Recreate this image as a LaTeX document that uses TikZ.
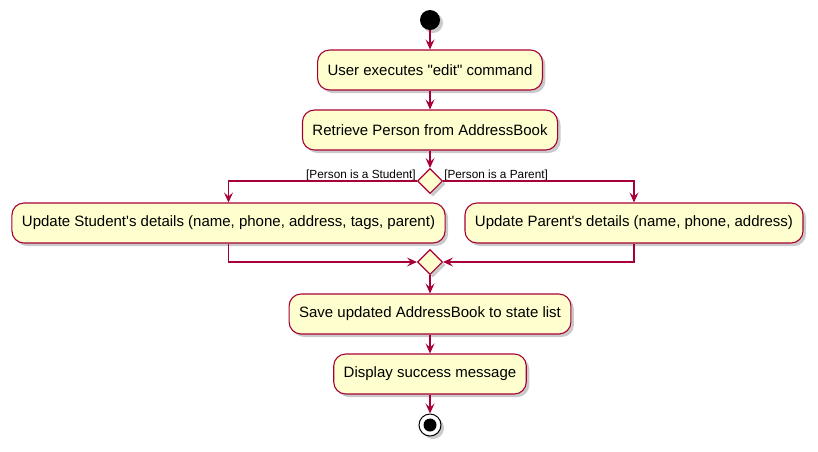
\documentclass[tikz,border=0pt]{standalone}
\usepackage{fontspec}
\setmainfont{Liberation Sans}
\usetikzlibrary{arrows.meta,shadows,shapes.geometric}

\definecolor{umlfill}{HTML}{FEFECE}
\definecolor{umlline}{HTML}{A80036}

\tikzset{
  act/.style={draw=umlline, fill=umlfill, line width=1.1pt, rounded corners=12pt,
    minimum height=40pt, inner xsep=10pt, font=\fontsize{15pt}{17pt}\selectfont,
    drop shadow={shadow xshift=3pt, shadow yshift=-3pt, fill=black!35, opacity=.6}},
  choice/.style={diamond, draw=umlline, fill=umlfill, line width=1.1pt,
    minimum width=25pt, minimum height=25pt, inner sep=0pt,
    drop shadow={shadow xshift=3pt, shadow yshift=-3pt, fill=black!35, opacity=.6}},
  flow/.style={draw=umlline, line width=1.1pt,
    -{Stealth[length=10pt, width=9pt, inset=4pt]}},
  guard/.style={font=\fontsize{11.8pt}{13pt}\selectfont, inner sep=1pt}
}

\begin{document}
\begin{tikzpicture}[x=1pt,y=-1pt]
      \useasboundingbox (0,0) rectangle (818,451);
      % start and stop
      \node[circle, fill=black, minimum size=20pt, inner sep=0pt,
        drop shadow={shadow xshift=3pt, shadow yshift=-3pt, fill=black!35, opacity=.6}] (start) at (430,20) {};
      \node[circle, draw=black, fill=white, line width=1pt, minimum size=22pt, inner sep=0pt,
        drop shadow={shadow xshift=3pt, shadow yshift=-3pt, fill=black!35, opacity=.6}] (stop) at (430,425) {};
      \node[circle, fill=black, minimum size=13pt, inner sep=0pt] (stopdot) at (stop) {};
      % activities
      \node[act] (edit) at (430,70) {User executes \textquotedbl edit\textquotedbl{} command};
      \node[act] (retrieve) at (430,130) {Retrieve Person from AddressBook};
      \node[choice] (split) at (430,181) {};
      \node[act] (student) at (228.5,223) {Update Student\textquotesingle s details (name, phone, address, tags, parent)};
      \node[act] (parent) at (634,223) {Update Parent\textquotesingle s details (name, phone, address)};
      \node[choice] (merge) at (430,262) {};
      \node[act] (save) at (430,314) {Save updated AddressBook to state list};
      \node[act] (display) at (430,374) {Display success message};
      % guards
      \node[guard, anchor=south east] (isstudent) at ([yshift=-1pt]split.west) {[Person is a Student]};
      \node[guard, anchor=south west] (isparent) at ([yshift=-1pt]split.east) {[Person is a Parent]};
      % flows
      \draw[flow] (start) -- (edit);
      \draw[flow] (edit) -- (retrieve);
      \draw[flow] (retrieve) -- (split);
      \draw[flow] (split.west) -| (student.north);
      \draw[flow] (split.east) -| (parent.north);
      \draw[flow] (student.south) |- (merge.west);
      \draw[flow] (parent.south) |- (merge.east);
      \draw[flow] (merge) -- (save);
      \draw[flow] (save) -- (display);
      \draw[flow] (display) -- (stop);
    \end{tikzpicture}
\end{document}
